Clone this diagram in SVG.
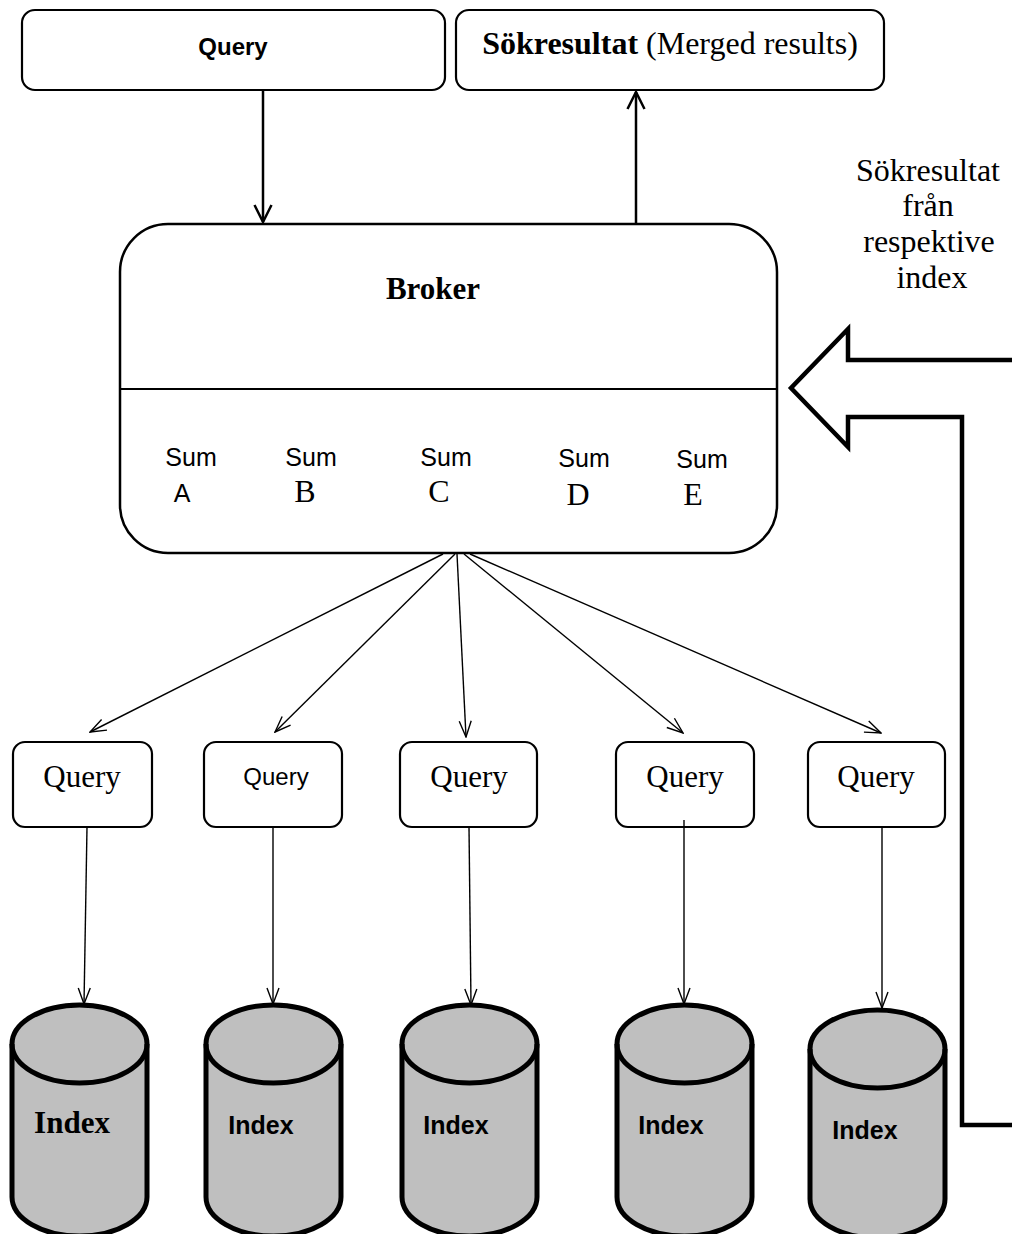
<svg xmlns="http://www.w3.org/2000/svg" width="1012" height="1234" viewBox="0 0 1012 1234">
  <defs>
    <style>
      .box { fill: #ffffff; stroke: #000000; stroke-width: 2.2; }
      .broker { fill: #ffffff; stroke: #000000; stroke-width: 2.5; }
      .cyl { fill: #bfbfbf; stroke: #000000; stroke-width: 5; stroke-linejoin: round; }
      .cylrim { fill: none; stroke: #000000; stroke-width: 5; }
      .serif { font-family: "Liberation Serif", "Times New Roman", serif; fill: #000; }
      .sans { font-family: "Liberation Sans", Arial, sans-serif; fill: #000; }
      .thick { fill: none; stroke: #000; stroke-width: 2.5; }
      .thin { fill: none; stroke: #000; stroke-width: 1.4; }
      .hollow { fill: none; stroke: #000; stroke-width: 4.5; stroke-linejoin: miter; }
    </style>
    <marker id="headThick" markerUnits="userSpaceOnUse" viewBox="0 0 20 20" refX="18" refY="10" markerWidth="20" markerHeight="20" orient="auto">
      <path d="M1,1.5 L18,10 L1,18.5" fill="none" stroke="#000" stroke-width="2.5"/>
    </marker>
    <marker id="headThin" markerUnits="userSpaceOnUse" viewBox="0 0 18 16" refX="17" refY="8" markerWidth="18" markerHeight="16" orient="auto">
      <path d="M1,2 L17,8 L1,14" fill="none" stroke="#000" stroke-width="1.4"/>
    </marker>
  </defs>

  <!-- Top nodes -->
  <g id="query-top">
    <rect class="box" x="22" y="10" width="423" height="80" rx="13"/>
    <text class="sans" x="233" y="55" font-size="24" font-weight="bold" text-anchor="middle">Query</text>
  </g>
  <g id="merged-results">
    <rect class="box" x="456" y="10" width="428" height="80" rx="13"/>
    <text class="serif" x="670" y="54" font-size="32" text-anchor="middle"><tspan font-weight="bold">Sökresultat</tspan> (Merged results)</text>
  </g>

  <!-- Broker -->
  <g id="broker">
    <rect class="broker" x="120" y="224" width="657" height="329" rx="48"/>
    <line x1="120" y1="389" x2="777" y2="389" stroke="#000" stroke-width="1.8"/>
    <text class="serif" x="433" y="299" font-size="31" font-weight="bold" text-anchor="middle">Broker</text>
    <g id="sum-a">
      <text class="sans" x="191" y="466" font-size="25" text-anchor="middle">Sum</text>
      <text class="sans" x="182" y="502" font-size="25" text-anchor="middle">A</text>
    </g>
    <g id="sum-b">
      <text class="sans" x="311" y="466" font-size="25" text-anchor="middle">Sum</text>
      <text class="serif" x="305" y="502" font-size="32" text-anchor="middle">B</text>
    </g>
    <g id="sum-c">
      <text class="sans" x="446" y="466" font-size="25" text-anchor="middle">Sum</text>
      <text class="serif" x="439" y="502" font-size="32" text-anchor="middle">C</text>
    </g>
    <g id="sum-d">
      <text class="sans" x="584" y="467" font-size="25" text-anchor="middle">Sum</text>
      <text class="serif" x="578" y="505" font-size="32" text-anchor="middle">D</text>
    </g>
    <g id="sum-e">
      <text class="sans" x="702" y="468" font-size="25" text-anchor="middle">Sum</text>
      <text class="serif" x="693" y="505" font-size="32" text-anchor="middle">E</text>
    </g>
  </g>

  <!-- Side label -->
  <g id="side-label">
    <text class="serif" font-size="32" text-anchor="middle">
      <tspan x="932" y="181">Sökresultat</tspan>
      <tspan x="932" y="216">från</tspan>
      <tspan x="933" y="252">respektive</tspan>
      <tspan x="932" y="288">index</tspan>
    </text>
  </g>

  <!-- Query boxes -->
  <g id="query-1">
    <rect class="box" x="13" y="742" width="139" height="85" rx="12"/>
    <text class="serif" x="82" y="787" font-size="31" text-anchor="middle">Query</text>
  </g>
  <g id="query-2">
    <rect class="box" x="204" y="742" width="138" height="85" rx="12"/>
    <text class="sans" x="276" y="785" font-size="24" text-anchor="middle">Query</text>
  </g>
  <g id="query-3">
    <rect class="box" x="400" y="742" width="137" height="85" rx="12"/>
    <text class="serif" x="469" y="787" font-size="31" text-anchor="middle">Query</text>
  </g>
  <g id="query-4">
    <rect class="box" x="616" y="742" width="138" height="85" rx="12"/>
    <text class="serif" x="685" y="787" font-size="31" text-anchor="middle">Query</text>
  </g>
  <g id="query-5">
    <rect class="box" x="808" y="742" width="137" height="85" rx="12"/>
    <text class="serif" x="876" y="787" font-size="31" text-anchor="middle">Query</text>
  </g>

  <!-- Index cylinders -->
  <g id="index-1">
    <path class="cyl" d="M12,1044 A67.5,39 0 0 1 147,1044 L147,1197 A67.5,39 0 0 1 12,1197 Z"/>
    <path class="cylrim" d="M12,1044 A67.5,39 0 0 0 147,1044"/>
    <text class="serif" x="72" y="1133" font-size="31" font-weight="bold" text-anchor="middle">Index</text>
  </g>
  <g id="index-2">
    <path class="cyl" d="M206,1044 A67.5,39 0 0 1 341,1044 L341,1197 A67.5,39 0 0 1 206,1197 Z"/>
    <path class="cylrim" d="M206,1044 A67.5,39 0 0 0 341,1044"/>
    <text class="sans" x="261" y="1134" font-size="25" font-weight="bold" text-anchor="middle">Index</text>
  </g>
  <g id="index-3">
    <path class="cyl" d="M402,1044 A67.5,39 0 0 1 537,1044 L537,1197 A67.5,39 0 0 1 402,1197 Z"/>
    <path class="cylrim" d="M402,1044 A67.5,39 0 0 0 537,1044"/>
    <text class="sans" x="456" y="1134" font-size="25" font-weight="bold" text-anchor="middle">Index</text>
  </g>
  <g id="index-4">
    <path class="cyl" d="M617,1044 A67.5,39 0 0 1 752,1044 L752,1197 A67.5,39 0 0 1 617,1197 Z"/>
    <path class="cylrim" d="M617,1044 A67.5,39 0 0 0 752,1044"/>
    <text class="sans" x="671" y="1134" font-size="25" font-weight="bold" text-anchor="middle">Index</text>
  </g>
  <g id="index-5">
    <path class="cyl" d="M810,1049 A67.5,39 0 0 1 945,1049 L945,1199 A67.5,39 0 0 1 810,1199 Z"/>
    <path class="cylrim" d="M810,1049 A67.5,39 0 0 0 945,1049"/>
    <text class="sans" x="865" y="1139" font-size="25" font-weight="bold" text-anchor="middle">Index</text>
  </g>

  <!-- Connectors -->
  <g id="connectors">
    <line class="thick" x1="263" y1="90" x2="263" y2="222" marker-end="url(#headThick)"/>
    <line class="thick" x1="636" y1="224" x2="636" y2="92" marker-end="url(#headThick)"/>

    <line class="thin" x1="443" y1="554" x2="90" y2="732" marker-end="url(#headThin)"/>
    <line class="thin" x1="455" y1="554" x2="275" y2="732" marker-end="url(#headThin)"/>
    <line class="thin" x1="457" y1="554" x2="466" y2="737" marker-end="url(#headThin)"/>
    <line class="thin" x1="464" y1="554" x2="683" y2="733" marker-end="url(#headThin)"/>
    <line class="thin" x1="470" y1="554" x2="881" y2="733" marker-end="url(#headThin)"/>

    <line class="thin" x1="87" y1="827" x2="84" y2="1004" marker-end="url(#headThin)"/>
    <line class="thin" x1="273" y1="827" x2="273" y2="1004" marker-end="url(#headThin)"/>
    <line class="thin" x1="469" y1="827" x2="471" y2="1005" marker-end="url(#headThin)"/>
    <line class="thin" x1="684" y1="820" x2="684" y2="1004" marker-end="url(#headThin)"/>
    <line class="thin" x1="882" y1="827" x2="882" y2="1008" marker-end="url(#headThin)"/>

    <path id="results-return" class="hollow" d="M1014,360 L848,360 L848,329 L791,388 L848,447 L848,417 L962,417 L962,1125 L1014,1125"/>
  </g>
</svg>
